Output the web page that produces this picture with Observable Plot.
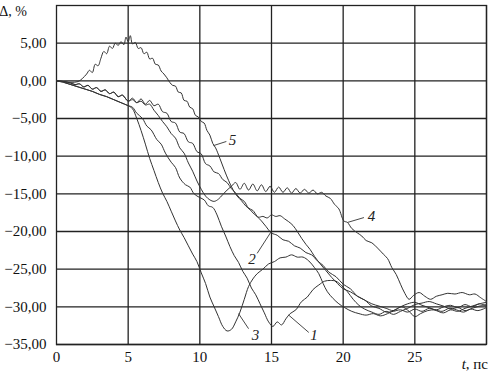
<!DOCTYPE html>
<html>
<head>
<meta charset="utf-8">
<script src="https://cdn.jsdelivr.net/npm/d3@7"></script>
<script src="https://cdn.jsdelivr.net/npm/@observablehq/plot@0.6"></script>
<style>
  html, body { margin: 0; padding: 0; background: #fff; }
</style>
</head>
<body>
<div id="chart"></div>
<script>
// ---- Data ----
const xTicks = [0, 5, 10, 15, 20, 25];
const xGrid = [5, 10, 15, 20, 25, 30];
const yTicks = [-35, -30, -25, -20, -15, -10, -5, 0, 5];
const xAxisLabel = ", пс";
const xAxisLabelItalic = "t";
const yAxisLabel = "Δ, %";

// start of curves 1 and 3 (lower, smooth) and curves 2 and 4 (upper, wavy)
const lowerStart = [[0,0],[0.5,-0.2],[1,-0.5],[1.5,-0.8],[2,-1.1],[2.5,-1.4],[3,-1.8],[3.5,-2.1],[4,-2.5],[4.5,-2.9],[5,-3.3]];
const upperStart = [[0,0],[0.5,-0.1],[1,-0.3],[1.3,-0.5],[1.6,-0.4],[1.9,-0.8],[2.2,-0.6],[2.5,-1.1],[2.8,-0.9],[3.1,-1.4],[3.4,-1.2],[3.7,-1.7],[4.0,-1.5],[4.3,-2.1],[4.6,-1.9],[5,-2.7]];

const curve1 = [[5.3,-3.5],[5.6,-4.3],[6,-5.0],[6.3,-6.0],[6.6,-6.5],[7,-7.8],[7.3,-8.4],[7.6,-9.6],[8,-10.8],[8.3,-11.5],[8.6,-12.9],[9,-13.8],[9.3,-14.1],[9.6,-15.0],[10,-15.5],[10.3,-15.8],[10.6,-16.6],[10.9,-16.8],[11.2,-17.8],[11.5,-19.3],[11.8,-20.6],[12.1,-22.0],[12.4,-23.2],[12.7,-24.1],[13,-25.3],[13.3,-26.2],[13.6,-27.5],[13.9,-28.4],[14.2,-29.6],[14.5,-30.8],[14.8,-32.0],[15.1,-32.6],[15.4,-32.0],[15.7,-32.4],[16,-31.6],[16.3,-30.9],[16.7,-30.4],[17.1,-29.3],[17.5,-28.7],[17.9,-27.7],[18.3,-27.1],[18.7,-26.6],[19.1,-26.5],[19.5,-26.6],[19.9,-27.2],[20.3,-28.0],[20.7,-29.0],[21.1,-29.8],[21.5,-30.3],[22,-30.7],[22.5,-31.0],[23,-30.6],[23.5,-31.0],[24,-30.6],[24.5,-30.2],[25,-29.7],[25.5,-29.5],[26,-29.3],[26.5,-29.6],[27,-29.9],[27.5,-30.3],[28,-30.1],[28.5,-30.5],[29,-30.2],[29.5,-29.9],[30,-29.7]];

const curve2 = [[5.3,-2.3],[5.6,-2.9],[5.9,-2.4],[6.2,-3.1],[6.5,-2.6],[6.8,-3.3],[7.1,-3.1],[7.4,-4.1],[7.7,-4.3],[8,-5.4],[8.3,-5.6],[8.6,-6.8],[8.9,-7.0],[9.2,-8.1],[9.5,-8.3],[9.8,-9.4],[10.1,-9.7],[10.4,-11.0],[10.7,-11.3],[11,-12.1],[11.3,-12.3],[11.6,-13.1],[11.9,-13.5],[12.2,-14.3],[12.5,-14.9],[12.8,-15.6],[13.1,-16.0],[13.4,-16.9],[13.7,-17.2],[14,-18.0],[14.3,-18.6],[14.6,-19.3],[15,-20.2],[15.4,-20.5],[15.8,-21.1],[16.2,-21.3],[16.6,-21.9],[17,-22.2],[17.4,-22.8],[17.8,-23.1],[18.2,-23.9],[18.6,-24.5],[19,-25.4],[19.5,-26.0],[20,-27.0],[20.5,-27.6],[21,-28.6],[21.5,-29.1],[22,-29.9],[22.5,-30.2],[23,-30.7],[23.5,-30.6],[24,-30.4],[24.5,-30.7],[25,-30.3],[25.5,-30.6],[26,-30.2],[26.5,-30.4],[27,-30.0],[27.5,-29.8],[28,-30.1],[28.5,-29.7],[29,-30.0],[29.5,-29.6],[30,-29.9]];

const curve3 = [[5.3,-3.7],[5.6,-5.0],[5.9,-6.6],[6.2,-8.4],[6.5,-10.3],[6.8,-11.9],[7.1,-13.5],[7.4,-14.9],[7.7,-16.0],[8,-17.3],[8.3,-18.6],[8.6,-19.8],[8.9,-20.8],[9.2,-21.9],[9.5,-23.0],[9.8,-24.0],[10.1,-25.5],[10.4,-26.9],[10.7,-28.7],[11,-30.0],[11.3,-31.3],[11.6,-32.6],[11.9,-33.2],[12.2,-33.0],[12.5,-32.0],[12.8,-30.7],[13.1,-29.0],[13.4,-27.3],[13.7,-26.3],[14.0,-25.6],[14.4,-25.0],[14.8,-24.3],[15.2,-24.0],[15.6,-23.5],[16,-23.4],[16.4,-23.1],[16.8,-23.4],[17.2,-23.4],[17.6,-23.9],[18,-24.8],[18.3,-25.6],[18.6,-26.9],[18.9,-28.0],[19.3,-28.9],[19.7,-29.6],[20.1,-30.1],[20.6,-30.6],[21.1,-30.9],[21.6,-31.1],[22.1,-30.9],[22.6,-31.2],[23.1,-30.9],[23.6,-30.4],[24.1,-30.0],[24.6,-30.6],[25,-31.3],[25.4,-30.9],[25.9,-30.5],[26.4,-30.4],[26.9,-30.6],[27.4,-30.2],[27.9,-30.4],[28.4,-30.7],[28.9,-30.3],[29.4,-30.5],[30,-30.1]];

const curve4 = [[5.3,-2.5],[5.6,-2.9],[5.9,-2.7],[6.2,-3.2],[6.5,-3.1],[6.8,-3.9],[7.1,-4.6],[7.4,-5.4],[7.7,-6.1],[8,-7.0],[8.3,-7.6],[8.6,-8.9],[8.9,-9.6],[9.2,-10.9],[9.5,-12.0],[9.8,-13.3],[10.1,-14.4],[10.4,-15.3],[10.7,-15.8],[11.0,-16.0],[11.3,-15.7],[11.6,-15.1],[11.9,-14.5],[12.2,-14.0],[12.5,-13.5],[12.8,-14.4],[13.1,-13.6],[13.4,-14.5],[13.7,-13.7],[14.0,-14.6],[14.3,-13.8],[14.6,-14.7],[14.9,-14.0],[15.2,-14.8],[15.5,-14.1],[15.8,-14.8],[16.1,-14.2],[16.4,-14.9],[16.7,-14.3],[17.0,-14.9],[17.3,-14.4],[17.6,-14.9],[17.9,-14.5],[18.2,-15.0],[18.5,-14.8],[18.8,-15.3],[19.1,-15.6],[19.4,-16.4],[19.7,-17.0],[20.05,-18.6],[20.3,-18.8],[20.6,-19.6],[21.0,-20.2],[21.3,-20.6],[21.6,-21.2],[22.0,-21.5],[22.4,-22.2],[22.8,-23.0],[23.1,-23.6],[23.4,-24.8],[23.7,-25.7],[24.0,-27.0],[24.3,-28.2],[24.6,-29.0],[24.9,-28.5],[25.3,-28.1],[25.7,-28.6],[26.1,-29.0],[26.5,-28.6],[26.9,-28.4],[27.3,-28.2],[27.8,-28.3],[28.3,-28.1],[28.8,-28.4],[29.2,-28.3],[29.6,-28.8],[30,-29.3]];

const curve5 = [[0,0],[0.5,-0.1],[1,-0.2],[1.5,-0.1],[1.8,0.3],[2.1,0.9],[2.3,1.4],[2.5,1.1],[2.7,2.2],[2.9,2.0],[3.1,3.0],[3.3,3.9],[3.5,3.6],[3.7,4.6],[3.9,4.3],[4.1,5.0],[4.3,4.7],[4.5,5.2],[4.7,4.8],[4.85,5.8],[5.0,5.2],[5.15,6.0],[5.3,4.9],[5.5,5.1],[5.7,4.3],[5.9,4.4],[6.1,3.6],[6.3,3.8],[6.5,2.9],[6.7,3.0],[6.9,2.2],[7.1,2.1],[7.3,1.3],[7.5,0.9],[7.7,0.4],[7.9,-0.2],[8.1,-0.6],[8.3,-0.7],[8.5,-1.5],[8.7,-1.6],[8.9,-2.6],[9.1,-2.7],[9.3,-3.5],[9.5,-3.7],[9.7,-4.6],[9.9,-4.8],[10.1,-5.4],[10.3,-5.6],[10.5,-6.6],[10.7,-7.2],[10.9,-8.3],[11.1,-8.9],[11.4,-10.3],[11.7,-11.8],[12.0,-13.2],[12.3,-14.4],[12.6,-15.3],[12.9,-15.9],[13.2,-16.6],[13.5,-17.1],[13.8,-17.7],[14.1,-18.1],[14.4,-18.0],[14.7,-18.2],[15.0,-17.8],[15.3,-18.0],[15.6,-17.9],[15.9,-18.3],[16.2,-18.7],[16.5,-19.2],[16.8,-20.0],[17.1,-20.9],[17.4,-21.7],[17.7,-22.4],[18.0,-23.3],[18.4,-24.3],[18.8,-25.2],[19.2,-26.1],[19.6,-26.9],[20.0,-27.6],[20.5,-28.0],[21.0,-28.6],[21.5,-29.1],[22.0,-29.6],[22.5,-29.9],[23.0,-30.2],[23.5,-30.5],[24.0,-30.0],[24.5,-29.6],[25.0,-29.4],[25.5,-29.8],[26.0,-30.1],[26.5,-30.5],[27.0,-30.8],[27.5,-30.4],[28.0,-30.6],[28.5,-30.2],[29.0,-29.9],[29.5,-29.6],[30,-29.4]];

// curve number labels (data coordinates) and their leader lines
const labelNames = ["1", "2", "3", "4", "5"];
const labelT = [17.97, 13.64, 13.88, 21.98, 12.28];
const labelV = [-33.7, -23.7, -33.8, -18.0, -7.9];
const leaderT1 = [17.6, 14.0, 13.4, 20.3, 10.95];
const leaderV1 = [-33.4, -22.9, -32.9, -18.8, -8.6];
const leaderT2 = [16.2, 14.95, 12.7, 21.45, 11.85];
const leaderV2 = [-31.1, -20.1, -30.9, -18.15, -8.05];

// ---- Build tables for the library ----
const series = [
  {id: "1", pts: lowerStart.concat(curve1)},
  {id: "2", pts: upperStart.concat(curve2)},
  {id: "3", pts: lowerStart.concat(curve3)},
  {id: "4", pts: upperStart.concat(curve4)},
  {id: "5", pts: curve5}
];
const lineData = series.flatMap(s => s.pts.map(([t, v]) => ({id: s.id, t, v})));
const labels = labelNames.map((name, i) => ({name, t: labelT[i], v: labelV[i]}));
const leaders = labelNames.map((name, i) => ({x1: leaderT1[i], y1: leaderV1[i], x2: leaderT2[i], y2: leaderV2[i]}));

const fmt = v => (v < 0 ? "\u2212" : "") + Math.abs(v).toFixed(2).replace(".", ",");

const ink = "#333";
const chart = Plot.plot({
  width: 489,
  height: 373,
  marginTop: 5,
  marginLeft: 56,
  marginRight: 3,
  marginBottom: 29,
  style: {fontFamily: "'Liberation Serif', serif", fontSize: "15px", color: "#111", background: "#fff"},
  x: {domain: [0, 30], ticks: xTicks, tickSize: 0, tickPadding: 7, label: null, tickFormat: d => String(d)},
  y: {domain: [-35, 10], ticks: yTicks, tickSize: 0, tickPadding: 10, label: null, tickFormat: fmt},
  marks: [
    Plot.ruleX(xGrid, {stroke: "#222", strokeWidth: 1.3}),
    Plot.ruleY(yTicks, {stroke: "#222", strokeWidth: 1.3}),
    Plot.frame({stroke: "#222", strokeWidth: 1.3}),
    Plot.line(lineData, {x: "t", y: "v", z: "id", stroke: ink, strokeWidth: 1, curve: "catmull-rom"}),
    Plot.link(leaders, {x1: "x1", y1: "y1", x2: "x2", y2: "y2", stroke: ink, strokeWidth: 0.9}),
    Plot.text(labels, {x: "t", y: "v", text: "name", fontStyle: "italic", fontSize: 15, fill: "#222"})
  ]
});

document.getElementById("chart").appendChild(chart);

// axis titles as text in the same SVG
const svg = d3.select(chart);
const xs = chart.scale("x");
const ys = chart.scale("y");
svg.append("text")
  .attr("x", 13)
  .attr("y", 16)
  .attr("fill", "#111")
  .style("font-size", "14px")
  .text(yAxisLabel);
const xt = svg.append("text")
  .attr("x", xs.apply(30) + 2)
  .attr("y", ys.apply(-35) + 25)
  .attr("text-anchor", "end")
  .attr("fill", "#111")
  .style("font-size", "15px");
xt.append("tspan").style("font-style", "italic").text(xAxisLabelItalic);
xt.append("tspan").text(xAxisLabel);
</script>
</body>
</html>
